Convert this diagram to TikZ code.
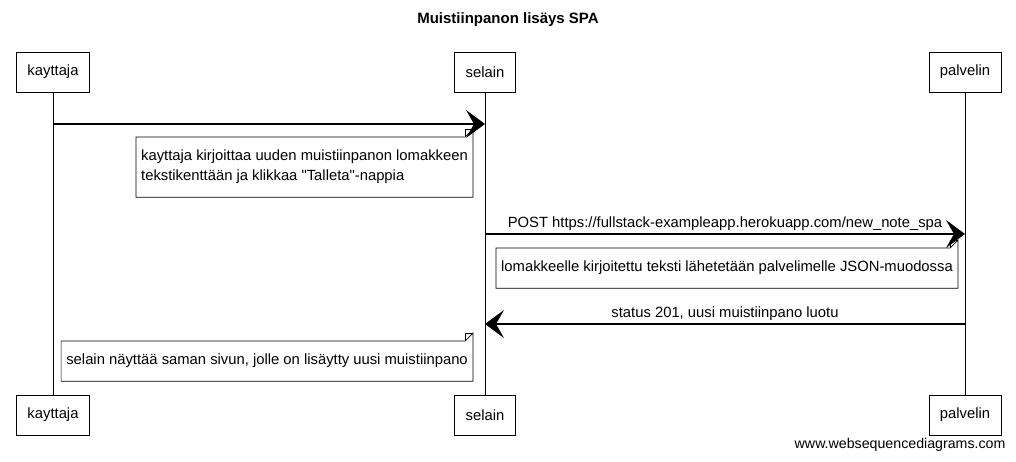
\documentclass[tikz,border=0pt]{standalone}
\usepackage{fontspec}
\setmainfont{Liberation Sans}
\usetikzlibrary{arrows.meta}
\tikzstyle{osallinen} = [draw, thin, minimum height=40pt, inner xsep=11pt]
\tikzstyle{lappu} = [align=left, inner xsep=5pt, inner ysep=13pt]
\tikzstyle{viesti} = [-{Stealth[length=19pt,width=28pt,inset=8pt]}, line width=1.2pt]

\begin{document}
\begin{tikzpicture}[x=1pt,y=-1pt,font=\fontsize{14.8}{20}\selectfont]
    \useasboundingbox (0,0) rectangle (1016,461);

    \node[font=\fontsize{15}{18}\selectfont\bfseries] at (508,20) (otsikko) {Muistiinpanon lisäys SPA};

    %osalliset
    \node[osallinen] at (53,72) (kayttaja) {kayttaja};
    \node[osallinen] at (485,72) (selain) {selain};
    \node[osallinen] at (965,72) (palvelin) {palvelin};
    \node[osallinen] at (53,415) (kayttaja2) {kayttaja};
    \node[osallinen] at (485,415) (selain2) {selain};
    \node[osallinen] at (965,415) (palvelin2) {palvelin};
    \draw[thin] (kayttaja) -- (kayttaja2);
    \draw[thin] (selain) -- (selain2);
    \draw[thin] (palvelin) -- (palvelin2);

    %viestit
    \coordinate (v1a) at (kayttaja |- 0,124);
    \coordinate (v1b) at (selain |- 0,124);
    \draw[viesti] (v1a) -- (v1b);
    \coordinate (v2a) at (selain |- 0,234);
    \coordinate (v2b) at (palvelin |- 0,234);
    \draw[viesti] (v2a) -- node[above=0pt] {POST https://fullstack-exampleapp.herokuapp.com/new\_note\_spa} (v2b);
    \coordinate (v3a) at (palvelin |- 0,324);
    \coordinate (v3b) at (selain |- 0,324);
    \draw[viesti] (v3a) -- node[above=0pt] {status 201, uusi muistiinpano luotu} (v3b);

    %laput
    \node[lappu, anchor=north east] at (473,137) (lappu1) {kayttaja kirjoittaa uuden muistiinpanon lomakkeen\\tekstikenttään ja klikkaa \textquotedbl Talleta\textquotedbl-nappia};
    \node[lappu, anchor=north west] at (496,248) (lappu2) {lomakkeelle kirjoitettu teksti lähetetään palvelimelle JSON-muodossa};
    \node[lappu, anchor=north east] at (473,341) (lappu3) {selain näyttää saman sivun, jolle on lisäytty uusi muistiinpano};
    \foreach \n in {lappu1,lappu2,lappu3}
      {
        \draw[line width=0.7pt] (\n.south west) -- (\n.north west) -- ([xshift=-8pt]\n.north east) -- ([yshift=8pt]\n.north east) -- (\n.south east) -- cycle;
        \draw[thin] ([xshift=-8pt]\n.north east) |- ([yshift=8pt]\n.north east);
      }

    \node[anchor=east, font=\fontsize{14.2}{16}\selectfont] at (1009,445) (wsd) {www.websequencediagrams.com};

\end{tikzpicture}
\end{document}
